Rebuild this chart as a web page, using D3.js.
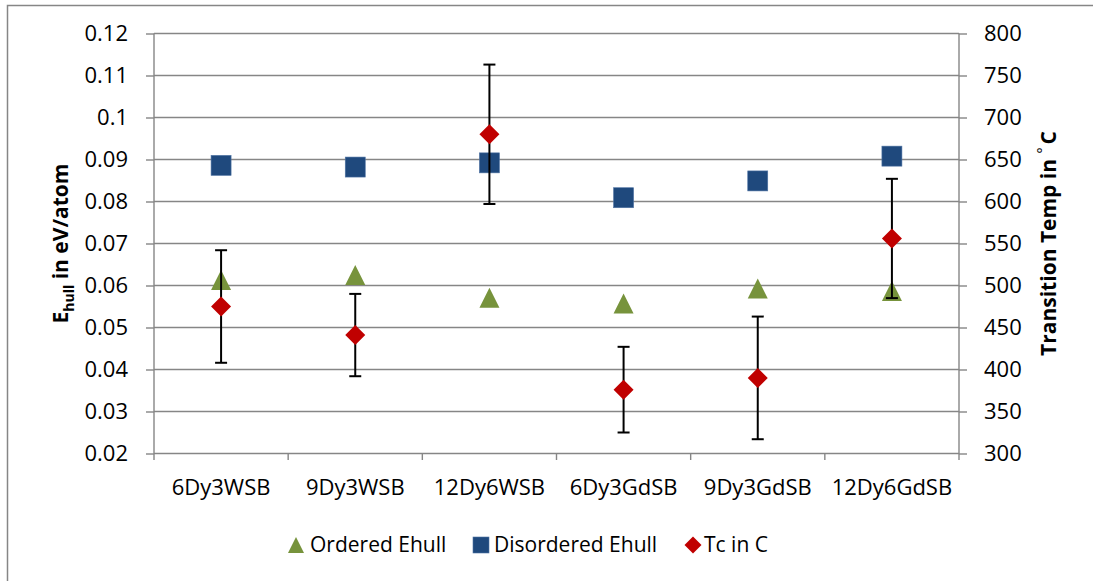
<!DOCTYPE html>
<html>
<head>
<meta charset="utf-8">
<script src="https://cdn.jsdelivr.net/npm/d3@7"></script>
<style>
  html, body { margin: 0; padding: 0; background: #fff; }
  svg { display: block; }
  text { font-family: "Open Sans", "Noto Sans", sans-serif; fill: #000; }
</style>
</head>
<body>
<svg id="chart" width="1093" height="581"></svg>
<script>
// ---- data ----
const categories = ["6Dy3WSB", "9Dy3WSB", "12Dy6WSB", "6Dy3GdSB", "9Dy3GdSB", "12Dy6GdSB"];
const orderedEhull = [0.0613, 0.0625, 0.0571, 0.0557, 0.0593, 0.0587];
const disorderedEhull = [0.0886, 0.0882, 0.0892, 0.0809, 0.0849, 0.0908];
const tcInC = [475, 441, 680, 376, 390, 556];
const tcError = [67, 49, 83, 51, 73, 71];
const leftTicks = [0.02, 0.03, 0.04, 0.05, 0.06, 0.07, 0.08, 0.09, 0.1, 0.11, 0.12];
const rightTicks = [300, 350, 400, 450, 500, 550, 600, 650, 700, 750, 800];
const seriesNames = ["Ordered Ehull", "Disordered Ehull", "Tc in C"];

// ---- layout ----
const svg = d3.select("#chart");
const W = 1093, H = 581;
const plot = { left: 154, right: 959, top: 33.5, bottom: 453.5 };
const gridColor = "#868686";
const colors = { ordered: "#77933C", disordered: "#1F497D", tc: "#C00000" };
const fontSize = 22;

// outer chart border
svg.append("rect")
  .attr("x", 7.5).attr("y", 5.5)
  .attr("width", W + 10).attr("height", H + 10)
  .attr("fill", "#fff").attr("stroke", gridColor).attr("stroke-width", 1.5);

const x = d3.scaleBand().domain(categories).range([plot.left, plot.right]).padding(0);
const yL = d3.scaleLinear().domain([0.02, 0.12]).range([plot.bottom, plot.top]);
const yR = d3.scaleLinear().domain([300, 800]).range([plot.bottom, plot.top]);

// gridlines
svg.append("g").selectAll("line").data(leftTicks).join("line")
  .attr("x1", plot.left).attr("x2", plot.right)
  .attr("y1", d => yL(d)).attr("y2", d => yL(d))
  .attr("stroke", gridColor).attr("stroke-width", 1.4);

// left axis
const leftAxis = d3.axisLeft(yL).tickValues(leftTicks).tickSize(8).tickPadding(18)
  .tickFormat(d => d3.format("")(+d.toFixed(2)));
const gL = svg.append("g").attr("transform", `translate(${plot.left},0)`).call(leftAxis);
gL.select(".domain").remove();
gL.selectAll(".tick line").attr("stroke", gridColor).attr("stroke-width", 1.4);
gL.selectAll(".tick text").style("font-size", fontSize + "px").attr("fill", "#000");
svg.append("line").attr("x1", plot.left).attr("x2", plot.left)
  .attr("y1", plot.top).attr("y2", plot.bottom + 6.5)
  .attr("stroke", gridColor).attr("stroke-width", 1.4);

// right axis
const rightAxis = d3.axisRight(yR).tickValues(rightTicks).tickSize(8).tickPadding(17);
const gR = svg.append("g").attr("transform", `translate(${plot.right},0)`).call(rightAxis);
gR.select(".domain").remove();
gR.selectAll(".tick line").attr("stroke", gridColor).attr("stroke-width", 1.4);
gR.selectAll(".tick text").style("font-size", fontSize + "px").attr("fill", "#000");
svg.append("line").attr("x1", plot.right).attr("x2", plot.right)
  .attr("y1", plot.top).attr("y2", plot.bottom + 6.5)
  .attr("stroke", gridColor).attr("stroke-width", 1.4);

// bottom axis
const bottomAxis = d3.axisBottom(x).tickSize(0).tickPadding(26);
const gB = svg.append("g").attr("transform", `translate(0,${plot.bottom})`).call(bottomAxis);
gB.select(".domain").remove();
gB.selectAll(".tick text").style("font-size", fontSize + "px").attr("fill", "#000");
// category separator ticks
const bounds = categories.map(c => x(c)).concat([plot.right]);
svg.append("g").selectAll("line").data(bounds.slice(1, -1)).join("line")
  .attr("x1", d => d).attr("x2", d => d)
  .attr("y1", plot.bottom).attr("y2", plot.bottom + 6.5)
  .attr("stroke", gridColor).attr("stroke-width", 1.4);

const cx = c => x(c) + x.bandwidth() / 2;

// Ordered Ehull (triangles)
const triPath = (s) => `M0,${-s/2}L${s/2},${s/2}L${-s/2},${s/2}Z`;
svg.append("g").selectAll("path").data(categories).join("path")
  .attr("transform", (c, i) => `translate(${cx(c)},${yL(orderedEhull[i])})`)
  .attr("d", triPath(20))
  .attr("fill", colors.ordered);

// Disordered Ehull (squares)
svg.append("g").selectAll("rect").data(categories).join("rect")
  .attr("x", c => cx(c) - 10)
  .attr("y", (c, i) => yL(disorderedEhull[i]) - 10)
  .attr("width", 20).attr("height", 20)
  .attr("fill", colors.disordered)
  .attr("stroke", "#4F73A3").attr("stroke-width", 0.6);

// Tc error bars
const eb = svg.append("g").attr("stroke", "#000").attr("stroke-width", 2);
categories.forEach((c, i) => {
  const top = yR(tcInC[i] + tcError[i]);
  const bot = yR(tcInC[i] - tcError[i]);
  eb.append("line").attr("x1", cx(c)).attr("x2", cx(c)).attr("y1", top).attr("y2", bot);
  eb.append("line").attr("x1", cx(c) - 6).attr("x2", cx(c) + 6).attr("y1", top).attr("y2", top);
  eb.append("line").attr("x1", cx(c) - 6).attr("x2", cx(c) + 6).attr("y1", bot).attr("y2", bot);
});

// Tc diamonds
const diaPath = (s) => `M0,${-s/2}L${s/2},0L0,${s/2}L${-s/2},0Z`;
svg.append("g").selectAll("path").data(categories).join("path")
  .attr("transform", (c, i) => `translate(${cx(c)},${yR(tcInC[i])})`)
  .attr("d", diaPath(20))
  .attr("fill", colors.tc);

// left axis title
const lt = svg.append("text")
  .attr("transform", `translate(68,${(plot.top + plot.bottom) / 2}) rotate(-90)`)
  .attr("text-anchor", "middle")
  .style("font-size", "21px").style("font-weight", "bold");
lt.append("tspan").text("E");
lt.append("tspan").text("hull").style("font-size", "14px").attr("dy", 6);
lt.append("tspan").text(" in eV/atom").attr("dy", -6);

// right axis title
const rt = svg.append("text")
  .attr("transform", `translate(1056,${(plot.top + plot.bottom) / 2}) rotate(-90)`)
  .attr("text-anchor", "middle")
  .style("font-size", "21px").style("font-weight", "bold");
rt.append("tspan").text("Transition Temp in ");
rt.append("tspan").text("\u00B0").style("font-size", "14px").style("font-weight", "normal").attr("dy", -8);
rt.append("tspan").text("C").attr("dy", 8).attr("dx", 3);

// legend
const legendY = 545;
const legend = svg.append("g");
const legItems = [
  { name: seriesNames[0], mx: 296, tx: 310, shape: "tri", color: colors.ordered },
  { name: seriesNames[1], mx: 481, tx: 494, shape: "sq", color: colors.disordered },
  { name: seriesNames[2], mx: 693, tx: 704, shape: "dia", color: colors.tc }
];
legItems.forEach(it => {
  if (it.shape === "tri") {
    legend.append("path").attr("transform", `translate(${it.mx},${legendY})`)
      .attr("d", triPath(16)).attr("fill", it.color);
  } else if (it.shape === "sq") {
    legend.append("rect").attr("x", it.mx - 8).attr("y", legendY - 8)
      .attr("width", 16).attr("height", 16).attr("fill", it.color)
      .attr("stroke", "#4F73A3").attr("stroke-width", 0.6);
  } else {
    legend.append("path").attr("transform", `translate(${it.mx},${legendY})`)
      .attr("d", diaPath(17)).attr("fill", it.color);
  }
  legend.append("text").attr("x", it.tx).attr("y", legendY).attr("dy", "0.35em")
    .style("font-size", "21px").text(it.name);
});
</script>
</body>
</html>
